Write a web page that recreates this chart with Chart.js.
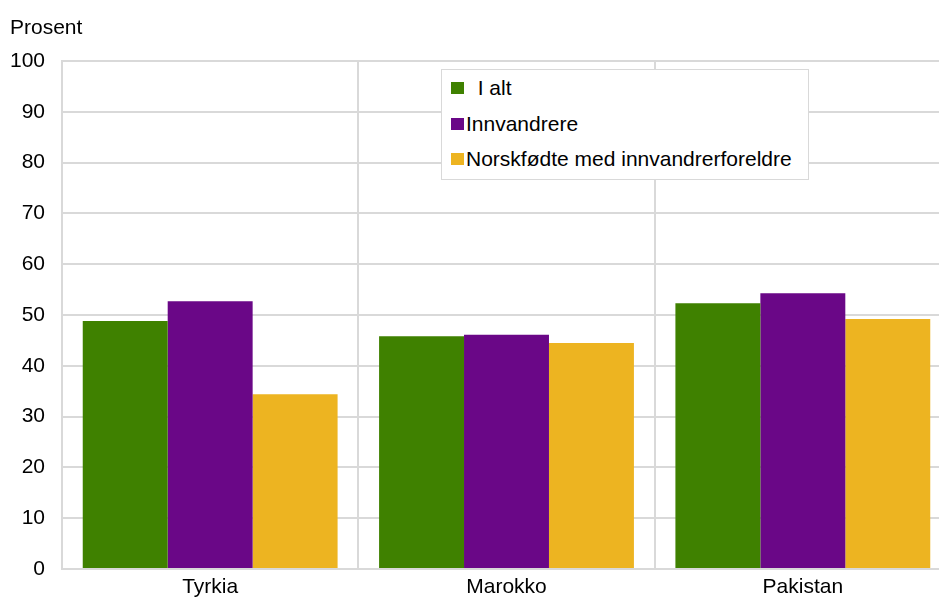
<!DOCTYPE html>
<html>
<head>
<meta charset="utf-8">
<script src="https://cdn.jsdelivr.net/npm/chart.js@4"></script>
<style>
    html, body { margin: 0; padding: 0; background: #fff; overflow: hidden; }
    body { width: 939px; height: 599px; position: relative; font-family: "Liberation Sans", Arial, sans-serif; }
    #wrap { position: absolute; left: 0; top: 0; width: 952px; height: 599px; }
    #unit { position: absolute; left: 10px; top: 15px; font-size: 21px; color: #000; }
    #legend { position: absolute; left: 441px; top: 69px; width: 366px; height: 109px; border: 1px solid #d9d9d9; background: #fff; }
    .item { position: absolute; left: 9px; font-size: 21px; color: #000; white-space: nowrap; }
    .item span { display: inline-block; width: 13px; height: 12px; margin-right: 2px; vertical-align: 1px; }
</style>
</head>
<body>
<div id="wrap"><canvas id="c"></canvas></div>
<div id="unit">Prosent</div>
<div id="legend"></div>
<script>
// land
const categories = ['Tyrkia', 'Marokko', 'Pakistan'];

// serier (prosent)
const seriesNames = ['I alt', 'Innvandrere', 'Norskfødte med innvandrerforeldre'];
const iAlt = [48.8, 45.8, 52.3];
const innvandrere = [52.7, 46.1, 54.3];
const norskfodte = [34.4, 44.5, 49.2];

const yTicks = [0, 10, 20, 30, 40, 50, 60, 70, 80, 90, 100];
const colors = ['#3f8100', '#6a0787', '#edb421'];

const values = [iAlt, innvandrere, norskfodte];

// legend as plain html
const legend = document.getElementById('legend');
const rowTops = [6, 42, 77];
seriesNames.forEach((name, i) => {
    const el = document.createElement('div');
    el.className = 'item';
    el.style.top = rowTops[i] + 'px';
    const gap = i === 0 ? '&nbsp;&nbsp;' : '';
    el.innerHTML = '<span style="background:' + colors[i] + '"></span>' + gap + name;
    legend.appendChild(el);
});

const ctx = document.getElementById('c').getContext('2d');
new Chart(ctx, {
    type: 'bar',
    data: {
        labels: categories,
        datasets: seriesNames.map((name, i) => ({
            label: name,
            data: values[i],
            backgroundColor: colors[i],
            borderWidth: 0,
            categoryPercentage: 0.86,
            barPercentage: 1.0
        }))
    },
    options: {
        responsive: true,
        maintainAspectRatio: false,
        animation: false,
        layout: { padding: { top: 61, right: 1, left: 0, bottom: 0 } },
        plugins: {
            legend: { display: false },
            tooltip: { enabled: false }
        },
        scales: {
            x: {
                afterFit(scale) { scale.height = 30; },
                grid: { color: '#d9d9d9', lineWidth: 2, drawTicks: false, offset: true },
                border: { color: '#d9d9d9', width: 2 },
                ticks: {
                    color: '#000',
                    padding: 6,
                    font: { family: 'Liberation Sans', size: 21 }
                }
            },
            y: {
                min: 0,
                max: 100,
                afterFit(scale) { scale.width = 62; },
                afterBuildTicks(scale) { scale.ticks = yTicks.map(v => ({ value: v })); },
                grid: { color: '#d9d9d9', lineWidth: 2, drawTicks: false },
                border: { color: '#d9d9d9', width: 2 },
                ticks: {
                    color: '#000',
                    padding: 17,
                    font: { family: 'Liberation Sans', size: 21 }
                }
            }
        }
    }
});
</script>
</body>
</html>
